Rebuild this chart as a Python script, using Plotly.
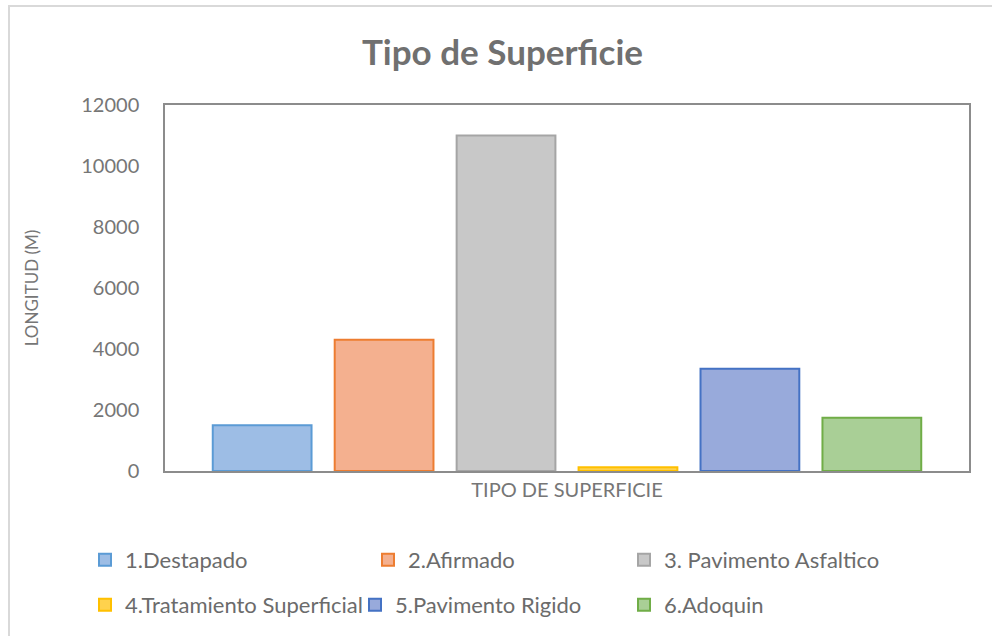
import plotly.graph_objects as go

# ---- data ----
category = ["TIPO DE SUPERFICIE"]
series_names = ["1.Destapado", "2.Afirmado", "3. Pavimento Asfaltico",
                "4.Tratamiento Superficial", "5.Pavimento Rigido", "6.Adoquin"]
series_values = [1500, 4300, 11000, 120, 3350, 1750]
y_tick_values = [0, 2000, 4000, 6000, 8000, 10000, 12000]
y_tick_labels = ["0", "2000", "4000", "6000", "8000", "10000", "12000"]

# ---- style ----
fill_colors = ["#9dbde5", "#f4b08f", "#c8c8c8", "#ffd24d", "#98aadb", "#a9cf96"]
line_colors = ["#5b9bd5", "#ed7d31", "#a5a5a5", "#ffc000", "#4472c4", "#70ad47"]
FONT = "Lato"

W, H = 992, 636
ML, MR, MT, MB = 165, 23, 105, 165
PW, PH = W - ML - MR, H - MT - MB

def px_x(px):
    return (px - ML) / PW

def px_y(py):
    return (H - MB - py) / PH

# legend positions (pixel: symbol left, row center)
legend_pos = [(99, 560), (382, 560), (638, 560), (99, 605), (369, 605), (638, 605)]

fig = go.Figure()
for i, (name, val) in enumerate(zip(series_names, series_values)):
    lg = "legend" if i == 0 else f"legend{i+1}"
    fig.add_trace(go.Bar(
        x=category, y=[val], name=name, legend=lg,
        marker=dict(color=fill_colors[i], line=dict(color=line_colors[i], width=2)),
        hoverinfo="name+y",
    ))

layout_legends = {}
for i, (sx, sy) in enumerate(legend_pos):
    key = "legend" if i == 0 else f"legend{i+1}"
    layout_legends[key] = dict(
        x=px_x(sx - 14), y=px_y(sy), xanchor="left", yanchor="middle",
        xref="paper", yref="paper",
        bgcolor="rgba(0,0,0,0)", borderwidth=0,
        font=dict(family=FONT, size=22, color="#6b6b6b"),
        itemwidth=30,
    )

fig.update_layout(
    width=W, height=H,
    margin=dict(l=ML, r=MR, t=MT, b=MB, autoexpand=False),
    paper_bgcolor="white", plot_bgcolor="white",
    barmode="group", bargap=0.09, bargroupgap=0.19,
    title=dict(text="<b>Tipo de Superficie</b>", x=502.5 / W, xref="container", xanchor="center",
               y=1 - 53 / H, yref="container", yanchor="middle",
               font=dict(family=FONT, size=35, color="#707070")),
    font=dict(family=FONT, color="#767676"),
    showlegend=True,
    xaxis=dict(showline=True, mirror=True, linecolor="#8c8c8c", linewidth=1.5,
               showgrid=False, ticks="", tickfont=dict(family=FONT, size=20, color="#767676"),
               fixedrange=True),
    yaxis=dict(range=[0, 12000], tickvals=y_tick_values, ticktext=y_tick_labels,
               showline=True, mirror=True, linecolor="#8c8c8c", linewidth=1.5,
               showgrid=False, zeroline=False, ticks="outside", ticklen=20,
               tickcolor="rgba(0,0,0,0)",
               tickfont=dict(family=FONT, size=20, color="#767676"),
               title=dict(text="LONGITUD (M)", font=dict(family=FONT, size=17, color="#767676"),
                          standoff=38),
               fixedrange=True),
    shapes=[dict(type="rect", xref="paper", yref="paper",
                 x0=px_x(9), x1=px_x(1005), y0=px_y(650), y1=px_y(6),
                 line=dict(color="#d9d9d9", width=2), fillcolor="rgba(0,0,0,0)", layer="below")],
    **layout_legends,
)

fig.write_html("out.html", config={"displayModeBar": False},
               post_script="document.body.style.margin='0';document.body.style.overflow='hidden';")
